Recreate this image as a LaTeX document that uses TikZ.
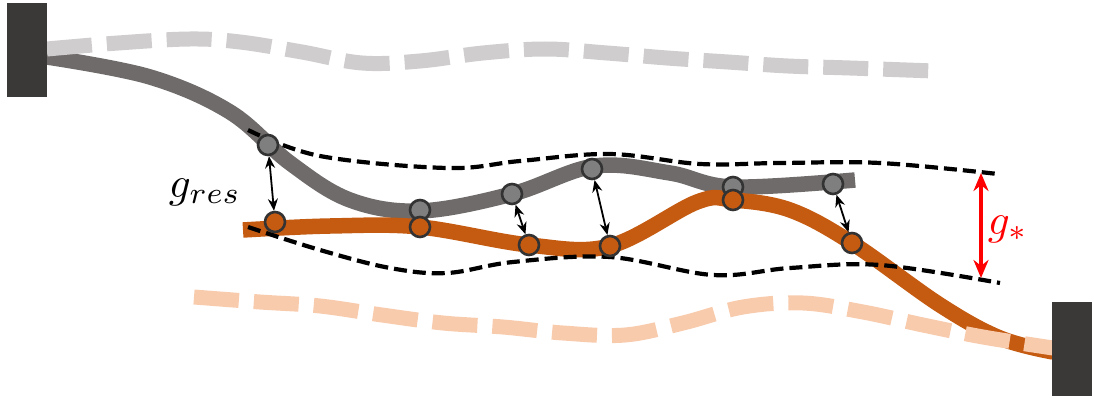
\documentclass[tikz,border=0pt]{standalone}
\usetikzlibrary{arrows.meta}
\definecolor{blockc}{HTML}{3A3937}
\definecolor{beamgrey}{HTML}{6E6B6A}
\definecolor{beamorange}{HTML}{C55A11}
\definecolor{ghostgrey}{HTML}{CFCDCD}
\definecolor{ghostorange}{HTML}{F8CBAD}
\definecolor{gcfill}{HTML}{7F7F7F}
\definecolor{circedge}{HTML}{333333}
\tikzset{
  blockbox/.style={fill=blockc, draw=none, inner sep=0pt, minimum width=40pt, minimum height=94pt},
  beam/.style={line width=15.5pt, line cap=butt},
  ghost/.style={line width=15pt, line cap=butt, dash pattern=on 45pt off 15pt},
  envelope/.style={line width=4.2pt, black, dash pattern=on 13pt off 6pt},
  gcirc/.style={circle, fill=gcfill, draw=circedge, line width=2.6pt, minimum size=20pt, inner sep=0pt},
  ocirc/.style={circle, fill=beamorange, draw=circedge, line width=2.6pt, minimum size=20pt, inner sep=0pt},
  gap/.style={line width=1.8pt, black, {Stealth[length=12pt,width=10pt]}-{Stealth[length=12pt,width=10pt]}},
}
\begin{document}
\begin{tikzpicture}[x=1pt, y=-1pt]
\useasboundingbox (0,0) rectangle (1094,401);
% solid beams
\draw[beam, beamgrey] plot[smooth, tension=0.6] coordinates {(47,57) (150,77) (230,112) (290,163) (350,200) (420,211) (512,194) (595,166) (670,173) (733,187) (855,180)};
\draw[beam, beamorange] plot[smooth, tension=0.6] coordinates {(243,230) (330,226) (420,227) (529,245) (610,246) (697,202) (733,200) (790,210) (852,243) (940,305) (1000,338) (1053,352)};
% envelopes
\draw[envelope] plot[smooth, tension=0.6] coordinates {(248,130) (320,156) (447,168) (520,161) (610,154) (700,164) (780,163) (880,163) (998,174)};
\draw[envelope] plot[smooth, tension=0.6] coordinates {(248,227) (320,250) (390,268) (447,273) (513,262) (610,257) (713,275) (790,268) (880,265) (1000,283)};
% ghost beams
\draw[ghost, ghostgrey] plot[smooth, tension=0.6] coordinates {(47,49) (118,43) (190,39) (240,42) (302,52) (362,63) (420,61) (483,53) (545,49) (607,53) (667,58) (728,62) (788,66) (850,68) (934,71)};
\draw[ghost, ghostorange] plot[smooth, tension=0.6] coordinates {(194,297) (260,302) (320,306) (382,315) (443,323) (503,327) (563,333) (625,335) (683,323) (743,307) (803,303) (863,312) (923,325) (983,337) (1053,348)};
% blocks
\node[blockbox] (lblock) at (27,50) {};
\node[blockbox] (rblock) at (1072,349) {};
% circles
\node[gcirc] (g1) at (268,145) {};
\node[gcirc] (g2) at (420,210) {};
\node[gcirc] (g3) at (512,194) {};
\node[gcirc] (g4) at (592,169) {};
\node[gcirc] (g5) at (733,187) {};
\node[gcirc] (g6) at (833,184) {};
\node[ocirc] (o1) at (275,222) {};
\node[ocirc] (o2) at (420,227) {};
\node[ocirc] (o3) at (529,245) {};
\node[ocirc] (o4) at (610,246) {};
\node[ocirc] (o5) at (733,200) {};
\node[ocirc] (o6) at (852,243) {};
% gap arrows
\draw[gap] (g1) -- (o1);
\draw[gap] (g3) -- (o3);
\draw[gap] (g4) -- (o4);
\draw[gap] (g6) -- (o6);
% labels
\node[scale=4.3] (gres) at (205,192) {$g_{res}$};
\coordinate (rtop) at (981,173);
\coordinate (rbot) at (981,278);
\draw[red, line width=4pt, {Stealth[length=18pt,width=15pt]}-{Stealth[length=18pt,width=15pt]}] (rtop) -- (rbot);
\node[red, scale=4.3] (gstar) at (1008,229) {$g_*$};
\end{tikzpicture}
\end{document}
